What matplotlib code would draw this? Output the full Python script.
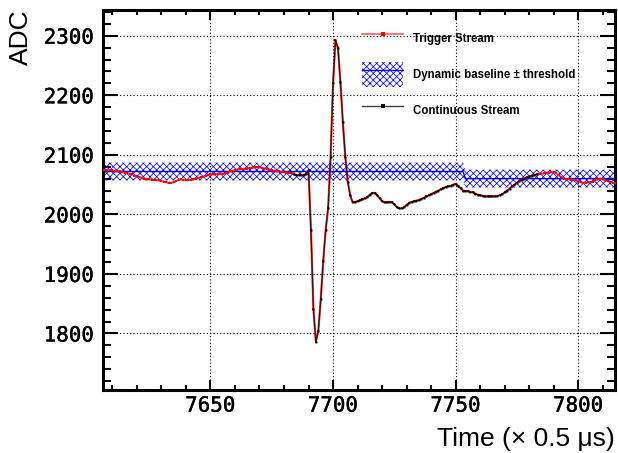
import matplotlib.pyplot as plt
import matplotlib.patheffects as pe
import numpy as np
from matplotlib.lines import Line2D
from matplotlib.patches import Patch
from matplotlib.ticker import MultipleLocator

plt.rcParams['hatch.linewidth'] = 0.55

# ADC samples, one per time tick (x 0.5 us), starting at t_start
t_start = 7606
adc = [
    2074, 2074, 2074, 2074, 2074, 2073, 2072, 2072, 2071, 2070,
    2069, 2068, 2067, 2065, 2064, 2063, 2061, 2060, 2059, 2059,
    2058, 2058, 2058, 2057, 2056, 2055, 2054, 2053, 2053, 2054,
    2056, 2058, 2059, 2058, 2058, 2058, 2058, 2059, 2060, 2061,
    2062, 2063, 2065, 2066, 2067, 2067, 2067, 2068, 2068, 2068,
    2069, 2070, 2072, 2073, 2074, 2075, 2076, 2076, 2077, 2077,
    2078, 2078, 2079, 2079, 2079, 2078, 2077, 2076, 2075, 2074,
    2073, 2072, 2072, 2071, 2071, 2070, 2070, 2069, 2067, 2066,
    2066, 2066, 2066, 2068, 2074,
    1973, 1841, 1786, 1804, 1858, 1921, 1974, 2010, 2096, 2220,
    2292, 2280, 2223, 2155, 2097, 2055, 2032, 2020,
    2021, 2022, 2024, 2025, 2027, 2029, 2033, 2036, 2036, 2032,
    2027, 2022, 2020, 2020, 2021, 2020, 2017, 2012, 2010, 2010,
    2012, 2016, 2019, 2021, 2022, 2023, 2024, 2026, 2028, 2030,
    2032, 2034, 2036, 2038, 2040, 2042, 2044, 2046, 2047, 2048,
    2050, 2051, 2048, 2044, 2040, 2039, 2039, 2038, 2037, 2035,
    2033, 2032, 2031, 2030, 2030, 2030, 2030, 2030, 2031, 2032,
    2034, 2037, 2040, 2043, 2047, 2050, 2053, 2056, 2058, 2060,
    2062, 2064, 2065, 2066, 2067, 2068, 2068, 2069, 2070, 2070,
    2071, 2071, 2069, 2066, 2062, 2060, 2059, 2059, 2058, 2058,
    2057, 2055, 2054, 2053, 2053, 2054, 2054, 2055, 2057, 2059,
    2060, 2059, 2057, 2056, 2055, 2053, 2052,
]
adc = np.array(adc)
time = np.arange(t_start, t_start + len(adc))

# window kept by the continuous stream
cont_start = 7684
cont_end = 7783

# dynamic baseline and threshold
baseline_time = [7606, 7753, 7754, 7815]
baseline_adc = np.array([2072, 2072, 2060, 2060])
threshold = 15

fig = plt.figure(figsize=(6.18, 4.53), dpi=100)
ax = fig.add_axes([0.1659, 0.139, 0.8293, 0.840])

# baseline band
ax.fill_between(baseline_time, baseline_adc - threshold, baseline_adc + threshold,
                facecolor='none', edgecolor='blue', hatch='xxxxx', linewidth=0, zorder=2)
ax.plot(baseline_time, baseline_adc, color='blue', lw=1, zorder=2)

# trigger stream
ax.plot(time, adc, color=(1, 0, 0, 0.7), lw=1.6, marker='s', ms=1.5,
        mfc='red', mec='red', mew=0, zorder=3)

# continuous stream
m = (time >= cont_start) & (time <= cont_end)
ax.plot(time[m], adc[m], color=(0, 0, 0, 0.75), lw=1, marker='s', ms=1.4,
        mfc='black', mec='black', mew=0, zorder=4)

ax.set_xlim(7606, 7815)
ax.set_ylim(1705, 2344)

ax.xaxis.set_major_locator(MultipleLocator(50))
ax.xaxis.set_minor_locator(MultipleLocator(10))
ax.yaxis.set_major_locator(MultipleLocator(100))
ax.yaxis.set_minor_locator(MultipleLocator(20))
ax.tick_params(which='both', direction='in', top=True, right=True, width=1.5, color='black')
ax.tick_params(axis='x', which='major', length=7.5, pad=4, labelsize=15)
ax.tick_params(axis='x', which='minor', length=3.6)
ax.tick_params(axis='y', which='major', length=10.5, pad=6, labelsize=15)
ax.tick_params(axis='y', which='minor', length=5.5)
plt.setp(ax.get_xticklabels() + ax.get_yticklabels(),
         fontfamily='DejaVu Sans Mono', fontweight='normal',
         path_effects=[pe.withStroke(linewidth=0.3, foreground='black')])

ax.grid(True, which='major', color='black', linestyle=(0, (1, 2)), lw=0.8)
for sp in ax.spines.values():
    sp.set_linewidth(2.2)

ax.set_ylabel('ADC', fontsize=19, family='Liberation Sans', loc='top')
ax.yaxis.set_label_coords(-0.136, 1.0)
ax.set_xlabel('Time (\u00d7 0.5 \u03bcs)', fontsize=19, family='Liberation Sans', loc='right')
ax.xaxis.set_label_coords(1.0, -0.097)

# legend
h_trig = Line2D([], [], color=(1, 0, 0, 0.6), lw=1.3, marker='s', ms=2.6, mfc='red', mec='red', mew=0)
h_band = (Patch(facecolor='none', edgecolor='blue', hatch='xxxxx', linewidth=0),
          Line2D([], [], color='blue', lw=1))
h_cont = Line2D([], [], color=(0, 0, 0, 0.75), lw=1, marker='s', ms=2.6, mfc='black', mec='black', mew=0)
ax.legend([h_trig, h_band, h_cont],
          ['Trigger Stream', 'Dynamic baseline \u00b1 threshold', 'Continuous Stream'],
          loc='upper left', bbox_to_anchor=(0.506, 0.956), frameon=False,
          prop={'family': 'Liberation Sans', 'weight': 'bold', 'size': 8.3},
          handlelength=3.6, handleheight=2.9, handletextpad=0.85,
          labelspacing=1.0, borderpad=0, borderaxespad=0)

fig.savefig('out.png', dpi=100)
